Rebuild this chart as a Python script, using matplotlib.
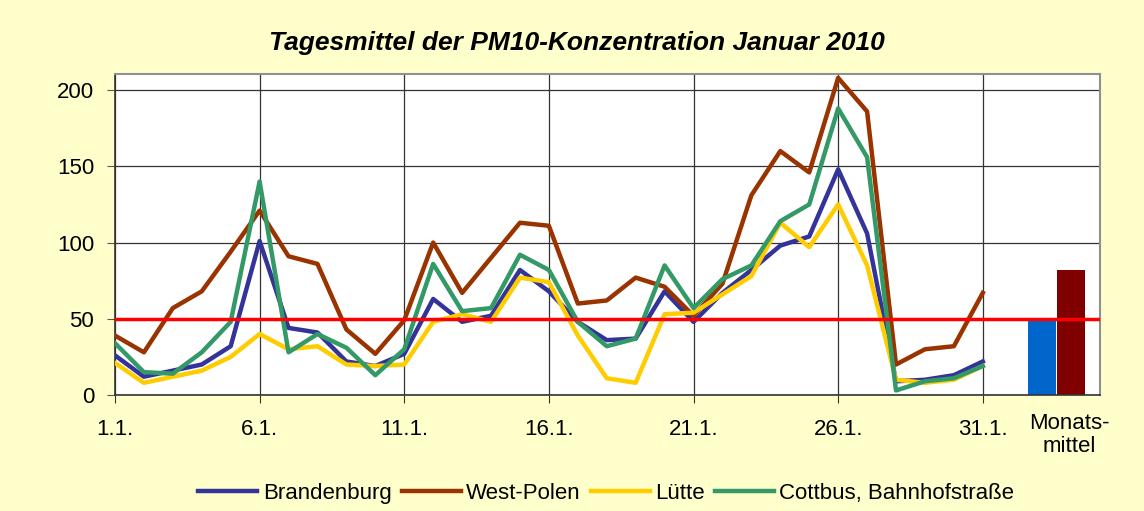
import numpy as np
import matplotlib.pyplot as plt

# Tagesmittel PM10, Januar 2010
days = np.arange(1, 32)
brandenburg = [26, 12, 16, 20, 32, 101, 44, 41, 22, 19, 27,
               63, 48, 52, 82, 68, 48, 36, 37, 68, 48,
               67, 82, 98, 104, 148, 106, 9, 10, 13, 22]
west_polen = [39, 28, 57, 68, 94, 121, 91, 86, 43, 27, 49,
              100, 67, 90, 113, 111, 60, 62, 77, 71, 52,
              73, 131, 160, 146, 208, 186, 20, 30, 32, 67]
luette = [21, 8, 12, 16, 25, 40, 30, 32, 20, 19, 20,
          48, 53, 48, 77, 74, 39, 11, 8, 53, 54,
          66, 78, 113, 97, 125, 85, 10, 8, 10, 19]
cottbus = [34, 15, 14, 28, 48, 140, 28, 40, 31, 13, 30,
           86, 55, 57, 92, 82, 48, 32, 37, 85, 57,
           76, 85, 114, 125, 188, 156, 3, 9, 11, 19]

# Monatsmittel
monthly = [49, 82]
monthly_colors = ['#0066CC', '#800000']
limit = 50

tick_days = [1, 6, 11, 16, 21, 26, 31]
tick_labels = ['1.1.', '6.1.', '11.1.', '16.1.', '21.1.', '26.1.', '31.1.']

plt.rcParams['font.family'] = ['Liberation Sans', 'DejaVu Sans']

fig = plt.figure(figsize=(11.44, 5.11), dpi=100, facecolor='#FFFFCC')
ax = fig.add_axes([0.1005, 0.227, 0.861, 0.628])
ax.set_facecolor('white')

lw = 3.2
ax.plot(days, brandenburg, color='#333399', lw=lw, label='Brandenburg', zorder=3)
ax.plot(days, west_polen, color='#993300', lw=lw, label='West-Polen', zorder=3)
ax.plot(days, luette, color='#FFCC00', lw=lw, label='Lütte', zorder=3)
ax.plot(days, cottbus, color='#339966', lw=lw, label='Cottbus, Bahnhofstraße', zorder=3)

bar_x = [33.05, 34.05]
ax.bar(bar_x, monthly, width=0.98, color=monthly_colors, zorder=2)

ax.axhline(limit, color='#FF0000', lw=2.5, zorder=4)

ax.set_xlim(1, 35.05)
ax.set_ylim(0, 210.5)
ax.set_yticks([0, 50, 100, 150, 200])
ax.set_xticks(tick_days)
ax.set_xticklabels(tick_labels)
ax.set_xticks([33.98], minor=True)
ax.set_xticklabels(['Monats-\nmittel'], minor=True, linespacing=1.15)
ax.tick_params(axis='x', which='minor', length=0, pad=13, labelsize=16)
ax.tick_params(axis='x', which='major', length=6, pad=11, labelsize=16, color='#333333')
ax.tick_params(axis='y', length=6, pad=9, labelsize=16, color='#555555')

ax.grid(True, which='major', axis='both', color='#333333', lw=0.9, zorder=1)
ax.set_axisbelow(True)
for side in ['top', 'right']:
    ax.spines[side].set_color('#909090')
    ax.spines[side].set_linewidth(1.5)
for side in ['left', 'bottom']:
    ax.spines[side].set_color('#333333')
    ax.spines[side].set_linewidth(1.2)

fig.text(0.504, 0.915, 'Tagesmittel der PM10-Konzentration Januar 2010',
         ha='center', va='center', fontsize=19, fontweight='bold', style='italic')

fig.legend(loc='center', bbox_to_anchor=(0.53, 0.035), ncol=4, frameon=False,
           handlelength=2.65, handletextpad=0.25, columnspacing=0.45,
           prop={'family': ['Liberation Sans', 'DejaVu Sans'], 'size': 16})

fig.savefig('out.png', dpi=100, facecolor=fig.get_facecolor())
